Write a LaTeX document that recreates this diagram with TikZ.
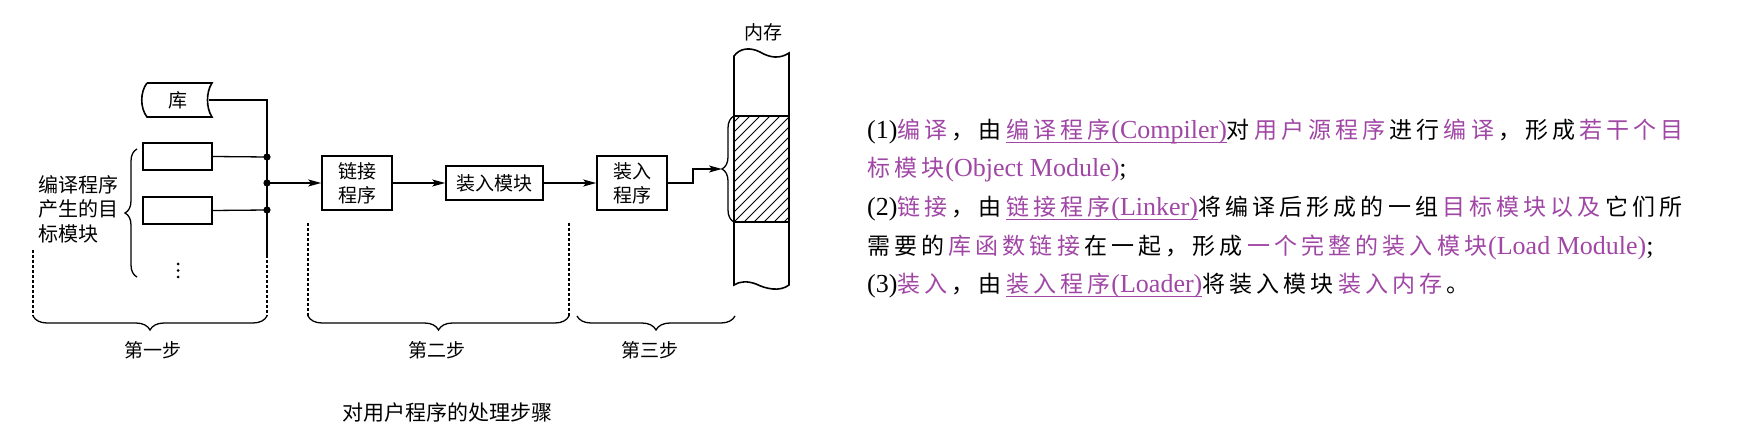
\documentclass[tikz,border=0pt]{standalone}
\usepackage{fontspec}
\setmainfont{Liberation Serif}
\newfontfamily\cjk{Noto Sans CJK SC}
\newfontfamily\cjkt{Noto Sans CJK SC}[LetterSpace=18]
\usetikzlibrary{arrows.meta,decorations.pathreplacing}
\definecolor{purp}{RGB}{160,70,165}
\newcommand{\dg}{\cjk\fontsize{19}{24}\selectfont}
\newcommand{\zh}[1]{{\cjkt\fontsize{23}{30}\selectfont #1\kern4.1pt}}
\newcommand{\zhn}[1]{{\cjkt\fontsize{23}{30}\selectfont #1\kern1pt}}
\newcommand{\pp}[1]{{\color{purp}#1}}
\newcommand{\ulx}[1]{\setbox0\hbox{#1}\rlap{\color{purp}\rule[-4pt]{\wd0}{1.3pt}}\box0}
\tikzset{
  box/.style={draw, line width=1.6pt, inner sep=0pt, align=center, font=\dg},
  ln/.style={line width=1.3pt},
  arr/.style={ln, -{Stealth[length=13pt,width=7pt,inset=3pt]}},
  dsh/.style={line width=1.1pt, dash pattern=on 3pt off 2pt},
  brc/.style={line width=1.3pt, decorate, decoration={brace, amplitude=#1}},
  lbl/.style={inner sep=0pt, font=\dg},
  txt/.style={anchor=base west, inner sep=0pt, font=\fontsize{26}{30}\selectfont}
}
\begin{document}
\begin{tikzpicture}[x=1pt,y=-1pt]
\useasboundingbox (0,0) rectangle (1751,446);
% library shape
\draw[line width=1.6pt] (147,83) -- (212,83) .. controls (206,92) and (206,108) .. (212,117) -- (147,117) .. controls (140,108) and (140,92) .. (147,83);
\node[lbl, minimum width=62pt, minimum height=34pt] (lib) at (178,100) {库};
% object modules
\node[box, minimum width=69pt, minimum height=27pt] (m1) at (177.5,156.5) {};
\node[box, minimum width=69pt, minimum height=27pt] (m2) at (177.5,210.5) {};
\fill (178,264) circle (1.5pt) (178,270.5) circle (1.5pt) (178,277) circle (1.5pt);
\node[lbl, anchor=west, align=left, font=\cjk\fontsize{20}{24.5}\selectfont] (lt) at (38,209) {编译程序\\产生的目\\标模块};
\coordinate (bt1) at (137,149);
\coordinate (bb1) at (137,277);
\draw[brc=12pt] (bb1) -- (bt1);
% junction line
\coordinate (jt) at (267,100);
\coordinate (j1) at (267,157);
\coordinate (j2) at (267,183);
\coordinate (j3) at (267,210);
\coordinate (jb) at (267,255);
\draw[ln] (lib.east) -- (jt) -- (jb);
\draw[ln] (m1.east) -- (j1);
\draw[ln] (m2.east) -- (j3);
\fill (j1) circle (3.6pt) (j2) circle (3.6pt) (j3) circle (3.6pt);
% main boxes
\node[box, minimum width=70pt, minimum height=54pt] (lk) at (357,183) {链接\\程序};
\node[box, minimum width=97pt, minimum height=34pt] (lm) at (494.5,183) {装入模块};
\node[box, minimum width=70pt, minimum height=54pt] (ld) at (632,183) {装入\\程序};
\draw[arr] (j2) -- (lk.west);
\draw[arr] (lk.east) -- (lm.west);
\draw[arr] (lm.east) -- (ld.west);
\coordinate (k1) at (693,183);
\coordinate (k2) at (693,169);
\coordinate (mt) at (722,169);
\draw[arr] (ld.east) -- (k1) -- (k2) -- (mt);
% memory
\node[lbl] (mem) at (763,32) {内存};
\begin{scope}
\clip (734,116) rectangle (789,222);
\foreach \i in {0,...,17} \draw[line width=0.8pt] (624+\i*10,222) -- ++(110,-110);
\end{scope}
\draw[line width=1.6pt] (734,56) .. controls (740,48) and (750,47) .. (760,52) .. controls (770,58) and (780,59) .. (789,53) -- (789,285) .. controls (780,292) and (766,289) .. (756,284) .. controls (748,281) and (740,281) .. (734,285) -- cycle;
\draw[line width=1.6pt] (734,116) -- (789,116) (734,222) -- (789,222);
\coordinate (mb) at (734,222);
\coordinate (mtop) at (734,116);
\draw[brc=12pt] (mb) -- (mtop);
% dashed guides
\coordinate (d1t) at (33,250);   \coordinate (d1b) at (33,316);
\coordinate (d2b) at (267,316);
\coordinate (d3t) at (308,223);  \coordinate (d3b) at (308,316);
\coordinate (d4t) at (569,223);  \coordinate (d4b) at (569,316);
\coordinate (d5a) at (577,316);  \coordinate (d5b) at (735,316);
\draw[dsh] (d1t) -- (d1b);
\draw[dsh] (jb) -- (d2b);
\draw[dsh] (d3t) -- (d3b);
\draw[dsh] (d4t) -- (d4b);
\draw[brc=14pt] (d2b) -- (d1b);
\draw[brc=14pt] (d4b) -- (d3b);
\draw[brc=14pt] (d5b) -- (d5a);
\node[lbl] (s1) at (153,350) {第一步};
\node[lbl] (s2) at (437,350) {第二步};
\node[lbl] (s3) at (650,350) {第三步};
\node[lbl, font=\cjk\fontsize{21}{24}\selectfont] (cap) at (447,413) {对用户程序的处理步骤};
% right text
\node[txt] (t1) at (867,139) {(1)\pp{\zh{编译}}\zh{，由}\ulx{\pp{\zhn{编译程序}(Compiler)}}\zh{对}\pp{\zh{用户源程序}}\zh{进行}\pp{\zh{编译}}\zh{，形成}\pp{\zh{若干个目}}};
\node[txt] (t2) at (867,177) {\pp{\zhn{标模块}(Object Module)};};
\node[txt] (t3) at (867,216) {(2)\pp{\zh{链接}}\zh{，由}\ulx{\pp{\zhn{链接程序}(Linker)}}\zh{将编译后形成的一组}\pp{\zh{目标模块以及}}\zh{它们所}};
\node[txt] (t4) at (867,255) {\zh{需要的}\pp{\zh{库函数链接}}\zh{在一起，形成}\pp{\zhn{一个完整的装入模块}(Load Module)};};
\node[txt] (t5) at (867,293) {(3)\pp{\zh{装入}}\zh{，由}\ulx{\pp{\zhn{装入程序}(Loader)}}\zh{将装入模块}\pp{\zh{装入内存}}\zh{。}};
\end{tikzpicture}
\end{document}
